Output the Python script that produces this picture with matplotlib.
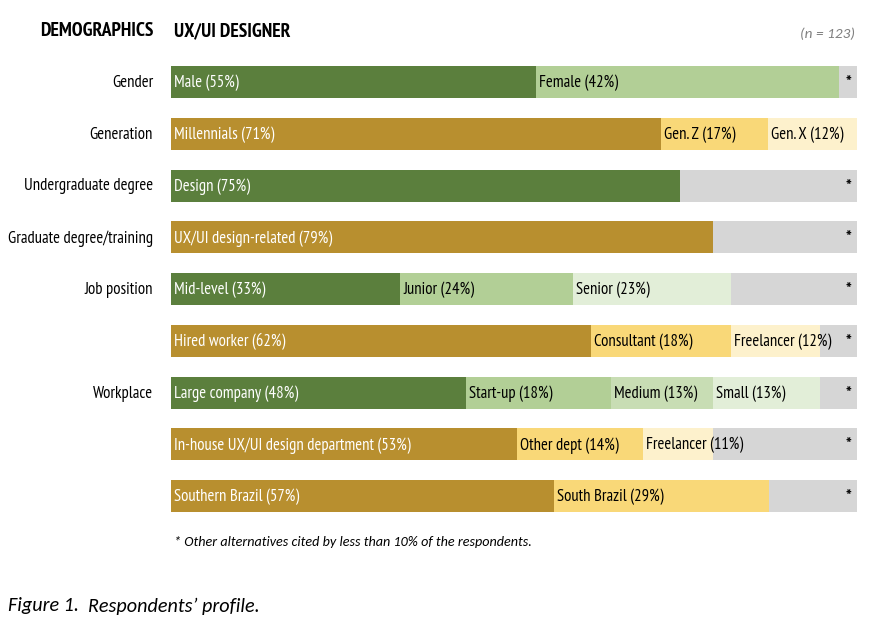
import matplotlib
matplotlib.use("Agg")
import matplotlib.pyplot as plt

plt.rcParams['font.family'] = ['PT Sans Narrow', 'Carlito', 'DejaVu Sans']
ITAL = ['Carlito', 'DejaVu Sans']

# ---- data ----
row_titles = ["Gender", "Generation", "Undergraduate degree", "Graduate degree/training",
              "Job position", "", "Workplace", "", ""]
seg_labels = [
    ["Male (55%)", "Female (42%)"],
    ["Millennials (71%)", "Gen. Z (17%)", "Gen. X (12%)"],
    ["Design (75%)"],
    ["UX/UI design-related (79%)"],
    ["Mid-level (33%)", "Junior (24%)", "Senior (23%)"],
    ["Hired worker (62%)", "Consultant (18%)", "Freelancer (12%)"],
    ["Large company (48%)", "Start-up (18%)", "Medium (13%)", "Small (13%)"],
    ["In-house UX/UI design department (53%)", "Other dept (14%)", "Freelancer (11%)"],
    ["Southern Brazil (57%)", "South Brazil (29%)"],
]
# segment widths as drawn (share of the full bar, %)
seg_widths = [
    [53.2, 44.2],
    [71.4, 15.6, 13.0],
    [74.2],
    [79.0],
    [33.4, 25.2, 23.0],
    [61.2, 20.4, 13.0],
    [43.0, 21.1, 14.9, 15.6],
    [50.4, 18.4, 10.2],
    [55.8, 31.3],
]
palette = ["green", "gold", "green", "gold", "green", "gold", "green", "gold", "gold"]

greens = ["#5B7F3D", "#B2CF96", "#C8DDB4", "#E2EED8"]
greens3 = ["#5B7F3D", "#B2CF96", "#E2EED8"]
golds = ["#B88F2F", "#F9D878", "#FDF1CC"]
grey = "#D6D6D6"

W, H = 880, 634
fig = plt.figure(figsize=(W / 100, H / 100), dpi=100)
left, right = 171, 857
rowgap = 51.75
top = 82 - 0.5 * rowgap
bottom = 82 + 8.5 * rowgap
ax = fig.add_axes([left / W, 1 - bottom / H, (right - left) / W, (bottom - top) / H])
ax.set_xlim(0, 100)
ax.set_ylim(8.5, -0.5)
ax.axis('off')

bh = 32 / rowgap
fs = 12
for i, (labs, ws) in enumerate(zip(seg_labels, seg_widths)):
    if palette[i] == "green":
        cols = greens if len(ws) == 4 else greens3
    else:
        cols = golds
    x = 0
    for j, (lab, w) in enumerate(zip(labs, ws)):
        ax.barh(i, w, left=x, height=bh, color=cols[j], edgecolor='none')
        ax.text(x + 0.45, i + 0.02, lab, va='center', ha='left', fontsize=fs,
                color='white' if j == 0 else 'black')
        x += w
    rest = 100 - x
    if rest > 0.5:
        ax.barh(i, rest, left=x, height=bh, color=grey, edgecolor='none')
        ax.text(98.7, i + 0.04, "*", va='center', ha='center', fontsize=fs + 1, color='black',
                fontweight='bold')
    if row_titles[i]:
        fig.text(153 / W, 1 - (83 + i * rowgap) / H, row_titles[i], ha='right', va='center',
                 fontsize=fs, color='black')

fig.text(153 / W, 1 - 31 / H, "DEMOGRAPHICS", ha='right', va='center', fontsize=14,
         fontweight='bold')
fig.text(174 / W, 1 - 31 / H, "UX/UI DESIGNER", ha='left', va='center', fontsize=14,
         fontweight='bold')
fig.text(855 / W, 1 - 34 / H, "(n = 123)", ha='right', va='center', fontsize=11,
         style='italic', color='#808080', family=ITAL)
fig.text(174 / W, 1 - 542 / H, "* Other alternatives cited by less than 10% of the respondents.",
         ha='left', va='center', fontsize=10.2, style='italic', family=ITAL)
fig.text(8 / W, 1 - 606 / H, "Figure 1.", ha='left', va='center', fontsize=14.5, style='italic',
         family=ITAL)
fig.text(88 / W, 1 - 606 / H, "Respondents\u2019 profile.", ha='left', va='center', fontsize=14.5,
         style='italic', family=ITAL)

fig.savefig("out.png", dpi=100, facecolor='white')
